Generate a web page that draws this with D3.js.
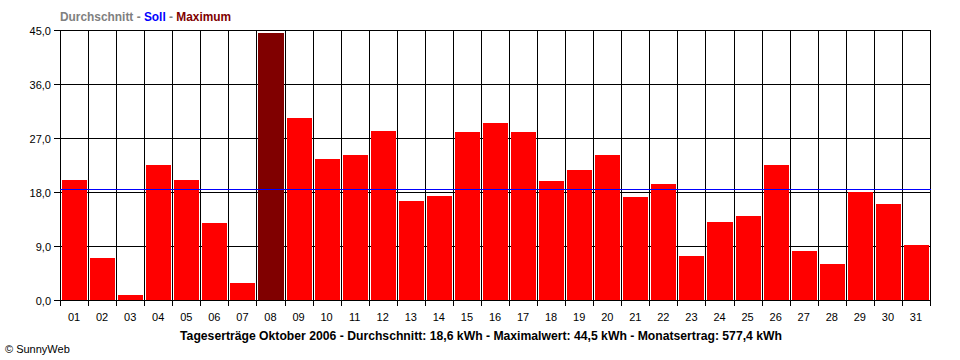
<!DOCTYPE html>
<html><head><meta charset="utf-8">
<script src="https://cdn.jsdelivr.net/npm/d3@7"></script>
<style>body{margin:0;background:#fff}svg{display:block}text{font-family:Arial,"Liberation Sans",sans-serif}</style>
</head><body><svg id="c" width="960" height="360"></svg>
<script>
const days = ["01","02","03","04","05","06","07","08","09","10","11","12","13","14","15","16","17","18","19","20","21","22","23","24","25","26","27","28","29","30","31"];
const values = [20.0,7.0,0.8,22.5,20.0,12.8,2.8,44.5,30.3,23.5,24.2,28.2,16.5,17.3,28.0,29.5,28.0,19.8,21.7,24.2,17.2,19.3,7.3,13.0,14.0,22.5,8.2,6.0,18.0,16.0,9.2];
const yTicks = [0,9,18,27,36,45];
const yTickLabels = ["0,0","9,0","18,0","27,0","36,0","45,0"];
const sollValue = 18.5;
const avgValue = 18.6;
const maxValue = 44.5;
const monthTotal = 577.4;
const legendItems = [["Durchschnitt","#808080"],[" - ","#808080"],["Soll","#0000ff"],[" - ","#808080"],["Maximum","#800000"]];
const footer = "Tageserträge Oktober 2006 - Durchschnitt: 18,6 kWh - Maximalwert: 44,5 kWh - Monatsertrag: 577,4 kWh";

const svg = d3.select("#c");
const L = 60, R = 930, T = 30, B = 300;
const x = d3.scaleBand().domain(days).range([L, R]).padding(0);
const y = d3.scaleLinear().domain([0,45]).range([B+0.5, T+0.5]);
const cw = x.bandwidth();
const snap = v => Math.round(v) + 0.5;

// horizontal gridlines
svg.append("g").selectAll("line").data(yTicks).join("line")
  .attr("x1", L-6).attr("x2", R+0.5).attr("y1", d=>y(d)).attr("y2", d=>y(d))
  .attr("stroke","#000").attr("stroke-width",1).attr("shape-rendering","crispEdges");
// vertical gridlines
const bounds = d3.range(days.length+1).map(i => L + i*cw);
svg.append("g").selectAll("line").data(bounds).join("line")
  .attr("x1", d=>snap(d)).attr("x2", d=>snap(d)).attr("y1", T).attr("y2", B+6)
  .attr("stroke","#000").attr("stroke-width",1).attr("shape-rendering","crispEdges");

// bars
svg.append("g").selectAll("rect").data(values).join("rect")
  .attr("x", (d,i)=>Math.round(x(days[i]))+2)
  .attr("width", (d,i)=>Math.round(x(days[i])+cw)-Math.round(x(days[i]))-3)
  .attr("y", d=>Math.round(y(d)-0.5))
  .attr("height", d=>B - Math.round(y(d)-0.5))
  .attr("fill", d=> d===maxValue ? "#800000" : "#ff0000")
  .attr("shape-rendering","crispEdges");

// soll line
svg.append("line").attr("x1",L).attr("x2",R+1).attr("y1",y(sollValue)).attr("y2",y(sollValue))
  .attr("stroke","#0000ff").attr("stroke-width",1).attr("shape-rendering","crispEdges");

// axis line
svg.append("line").attr("x1",L).attr("x2",R+1).attr("y1",B+0.5).attr("y2",B+0.5)
  .attr("stroke","#000").attr("shape-rendering","crispEdges");

// y labels
svg.append("g").selectAll("text").data(yTicks).join("text")
  .attr("x", 51).attr("y", d=>y(d)+4).attr("text-anchor","end")
  .attr("font-size", 11).attr("fill","#000").text((d,i)=>yTickLabels[i]);

// x labels
svg.append("g").selectAll("text").data(days).join("text")
  .attr("x", d=>x(d)+cw/2).attr("y", 321).attr("text-anchor","middle")
  .attr("font-size", 11).attr("fill","#000").text(d=>d);

// legend
const lt = svg.append("text").attr("x",60).attr("y",21).attr("font-size",11.9).attr("font-weight","bold");
legendItems.forEach(([t,c])=> lt.append("tspan").attr("fill",c).attr("xml:space","preserve").text(t));

// footer
svg.append("text").attr("x",481).attr("y",340).attr("text-anchor","middle")
  .attr("font-size",12.2).attr("font-weight","bold").attr("fill","#000").text(footer);
svg.append("text").attr("x",5).attr("y",353).attr("font-size",11).attr("fill","#000").text("© SunnyWeb");
</script></body></html>
